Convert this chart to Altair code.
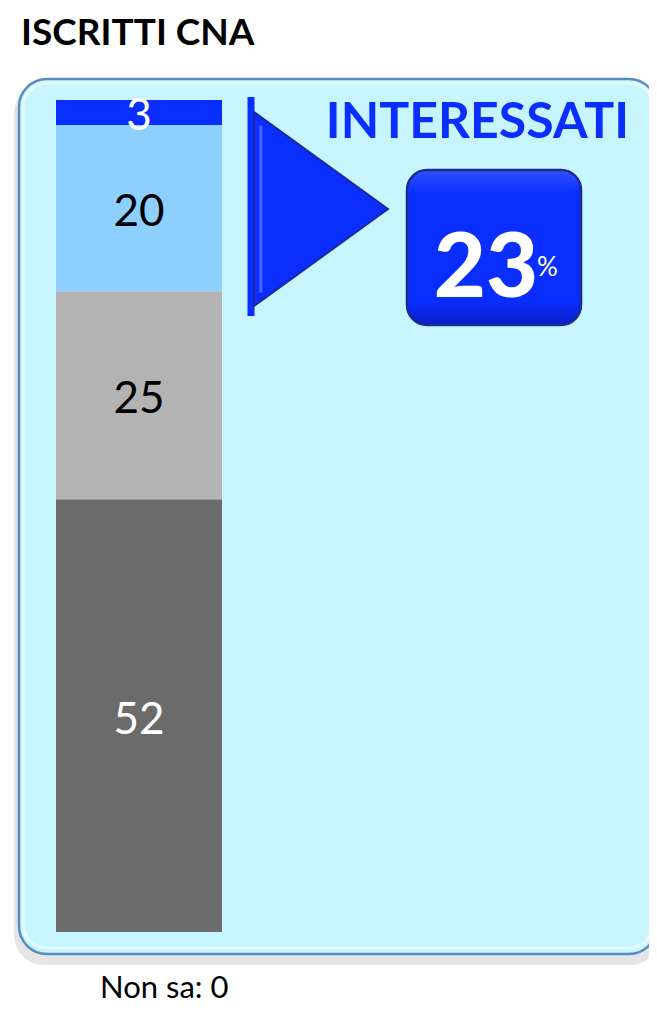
import altair as alt
import pandas as pd

# ---- data ----
categories = ["Molto", "Abbastanza", "Poco", "Per nulla"]
values = [3, 20, 25, 52]
bar_colors = ["#0A2EFF", "#8DD0FF", "#B3B3B3", "#6B6B6B"]
label_colors = ["#FFFFFF", "#000000", "#000000", "#FFFFFF"]
title_text = "ISCRITTI CNA"
kpi_label = "INTERESSATI"
kpi_value = "23"
kpi_unit = "%"
footer_text = "Non sa: 0"

# stack from bottom (last category at bottom)
rows = []
acc = 0
for cat, v, c, lc in reversed(list(zip(categories, values, bar_colors, label_colors))):
    rows.append({"cat": cat, "value": v, "start": acc, "end": acc + v,
                 "mid": acc + v / 2, "color": c, "lcolor": lc, "label": str(v)})
    acc += v
df = pd.DataFrame(rows)

W, H = 641, 996
FONT = "Lato"
one = pd.DataFrame({"a": [0]})

yscale = alt.Scale(domain=[0, 100], range=[924, 92])

# panel shadow and panel
shadow = alt.Chart(one).mark_rect(cornerRadius=30, fill="#E2E2E2", opacity=0.9).encode(
    x=alt.value(6), x2=alt.value(652), y=alt.value(76), y2=alt.value(957))
panel = alt.Chart(one).mark_rect(cornerRadius=28, fill="#C7F5FE", stroke="#5A8CC0",
                                  strokeWidth=2.5).encode(
    x=alt.value(11), x2=alt.value(649), y=alt.value(71), y2=alt.value(946))
panel_hi = alt.Chart(one).mark_rect(cornerRadius=24, fill="none", stroke="#E6FBFF",
                                     strokeWidth=3).encode(
    x=alt.value(15), x2=alt.value(645), y=alt.value(75), y2=alt.value(940))

bars = alt.Chart(df).mark_rect().encode(
    x=alt.value(48), x2=alt.value(214),
    y=alt.Y("end:Q", scale=yscale, axis=None),
    y2="start:Q",
    fill=alt.Fill("color:N", scale=None),
)
labels = alt.Chart(df).mark_text(font=FONT, fontSize=44, baseline="middle",
                                  align="center", dy=5).encode(
    x=alt.value(131),
    y=alt.Y("mid:Q", scale=yscale, axis=None),
    text="label:N",
    color=alt.Color("lcolor:N", scale=None),
)

title = alt.Chart(one).mark_text(font=FONT, fontSize=37, fontWeight="bold",
                                 align="left", baseline="alphabetic", color="#000000").encode(
    x=alt.value(13), y=alt.value(37), text=alt.value(title_text))

vline = alt.Chart(one).mark_rule(color="#0A2EFF", strokeWidth=7).encode(
    x=alt.value(243), y=alt.value(89), y2=alt.value(308))
tri = alt.Chart(one).mark_point(
    shape="M -0.69 -1 L 0.69 0 L -0.69 1 Z", size=194 * 194, filled=True,
    fill="#0A2EFF", stroke="#1A2A9A", strokeWidth=2, opacity=1).encode(
    x=alt.value(313), y=alt.value(201))
tri_hi = alt.Chart(one).mark_point(
    shape="M -0.62 -0.86 L -0.62 0.86", size=194 * 194, filled=False,
    stroke="#4A66FF", strokeWidth=3, opacity=1).encode(
    x=alt.value(313), y=alt.value(201))

kpi_head = alt.Chart(one).mark_text(font=FONT, fontSize=50, fontWeight="bold",
                                    align="right", baseline="alphabetic", color="#0A2EFF").encode(
    x=alt.value(621), y=alt.value(130), text=alt.value(kpi_label))

box = alt.Chart(one).mark_rect(cornerRadius=20, stroke="#1B2D8C", strokeWidth=2.5,
    fill={"gradient": "linear", "x1": 0, "y1": 0, "x2": 0, "y2": 1,
          "stops": [{"offset": 0, "color": "#2F50FF"},
                    {"offset": 0.15, "color": "#0A2EFF"},
                    {"offset": 0.85, "color": "#0A2EFF"},
                    {"offset": 1, "color": "#0820C8"}]}).encode(
    x=alt.value(399), x2=alt.value(573), y=alt.value(162), y2=alt.value(317))
kpi_num = alt.Chart(one).mark_text(font=FONT, fontSize=90, fontWeight=900,
                                   align="center", baseline="alphabetic", color="#FFFFFF").encode(
    x=alt.value(478), y=alt.value(289), text=alt.value(kpi_value))
kpi_pct = alt.Chart(one).mark_text(font=FONT, fontSize=26, align="left",
                                   baseline="alphabetic", color="#FFFFFF").encode(
    x=alt.value(529), y=alt.value(268), text=alt.value(kpi_unit))

footer = alt.Chart(one).mark_text(font=FONT, fontSize=31, align="left",
                                  baseline="alphabetic", color="#000000").encode(
    x=alt.value(92), y=alt.value(990), text=alt.value(footer_text))

chart = alt.layer(shadow, panel, panel_hi, bars, labels, title, vline, tri, tri_hi,
                  kpi_head, box, kpi_num, kpi_pct, footer).properties(
    width=W, height=H, autosize=alt.AutoSizeParams(type="none"), padding=0,
    background="#FFFFFF"
).configure_view(stroke=None)

chart.save("out.html", embed_options={"renderer": "svg", "actions": False})
